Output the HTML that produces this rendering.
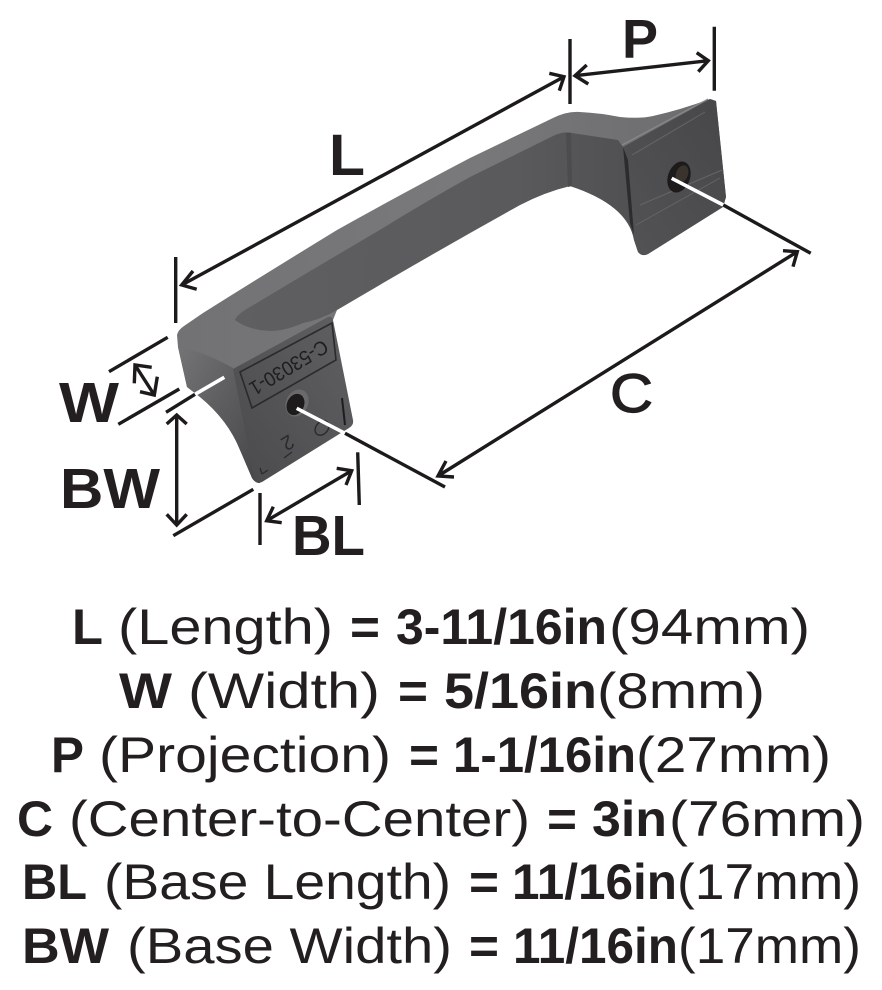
<!DOCTYPE html>
<html><head><meta charset="utf-8"><style>
html,body{margin:0;padding:0;background:#fff}
svg{display:block}
text{font-family:"Liberation Sans",sans-serif;fill:#231f20}
.b{font-weight:bold}
.t text{font-size:50px}
.l text{font-weight:bold}
.ln line,.ln polyline{stroke:#1d1a1b;stroke-width:3.4;fill:none}
</style></head><body>
<svg width="882" height="990" viewBox="0 0 882 990" xmlns="http://www.w3.org/2000/svg">
<defs>
<linearGradient id="top" x1="0" y1="0" x2="1" y2="0"><stop offset="0" stop-color="#727274"/><stop offset=".5" stop-color="#79797b"/><stop offset="1" stop-color="#6c6c6e"/></linearGradient>
<linearGradient id="inner" x1="0" y1="0" x2="1" y2="0"><stop offset="0" stop-color="#5f5f61"/><stop offset=".7" stop-color="#5a5a5c"/><stop offset="1" stop-color="#505052"/></linearGradient>
<linearGradient id="side" x1="0" y1="0" x2="1" y2="1"><stop offset="0" stop-color="#747476"/><stop offset=".5" stop-color="#5c5c5e"/><stop offset="1" stop-color="#464648"/></linearGradient>
<linearGradient id="face1" x1="0" y1="1" x2="1" y2="0"><stop offset="0" stop-color="#4a4a4c"/><stop offset="1" stop-color="#606062"/></linearGradient>
<linearGradient id="face2" x1="0" y1="1" x2="1" y2="0"><stop offset="0" stop-color="#535355"/><stop offset="1" stop-color="#474749"/></linearGradient>
</defs>

<!-- handle silhouette -->
<path d="M177,335 Q178,330 184,326 L203,313 Q270,271 337,230 Q405,192 470,158 L553,118 Q567,111 580,112 Q600,113 620,117 Q640,119 653,116 Q680,110 710,99 L716,101 L726,197 L723,207 L648,254 Q642,257 638,252 L634,240 Q628,205 570,186 Q545,192 520,205 Q430,255 337,310 L333,320 L260,483 Q255,483 252,478 L240,450 Q228,420 200,397 L187,387 L178,347 Z" fill="url(#top)"/>
<!-- inner under face -->
<path d="M235,320 Q236,316 245,310 Q315,268 383,228 Q425,202 470,177 L555,135 Q565,131 572,133 L618,140 L623,147 L634,240 Q628,205 570,186 Q545,192 520,205 Q430,255 337,310 Q320,320 303,323 Q285,331 270,331 Q248,330 235,320 Z" fill="url(#inner)"/>
<path d="M566,133 L571,133 L572,186 L568,187 Z" fill="#4c4c4e"/>
<!-- left side of base -->
<path d="M178,347 Q205,352 233,368 L260,483 Q255,483 252,478 L240,450 Q228,420 200,397 L187,387 Z" fill="url(#side)"/>
<!-- left base face -->
<path d="M233,369 L328,317 Q332,316 333,320 L353,420 Q354,425 349,428 L262,482 Q257,484 255,480 Z" fill="url(#face1)"/>
<path d="M240,372 L332,323 L336,360 L252,408 Z" fill="none" stroke="#2a2a2c" stroke-width="1.6"/>
<text transform="translate(323,339) rotate(149)" style="font-size:20px;fill:#1e1e20" textLength="88" lengthAdjust="spacingAndGlyphs">C-53030-1</text>
<text transform="translate(289,434) rotate(149)" style="font-size:20px;fill:#2a2a2c">2</text>
<ellipse cx="322" cy="428" rx="8" ry="6" fill="none" stroke="#2a2a2c" stroke-width="1.4" transform="rotate(-50 322 428)"/>
<path d="M342,398 L345,425" stroke="#1d1d1f" stroke-width="2"/>
<path d="M262,474 L268,470 M284,458 L292,452 M262,474 L260,468" stroke="#2a2a2c" stroke-width="1.3"/>
<ellipse cx="297" cy="403" rx="11" ry="14" fill="#6a6a6c" transform="rotate(25 297 403)"/>
<ellipse cx="295.5" cy="404.5" rx="8.5" ry="11" fill="#1d1b1b" transform="rotate(25 295.5 404.5)"/>
<!-- right base face -->
<path d="M623,147 L710,99 L716,101 L726,197 L723,207 L648,254 Q642,257 638,252 L634,240 Z" fill="url(#face2)"/>
<path d="M640,205 L722,170 M632,155 L705,112 M636,225 L720,178" stroke="#656567" stroke-width="1" fill="none"/>
<path d="M623,147 L628,160 L634,235 L630,223 Z" fill="#2c2c2e"/>
<path d="M622,145 L708,99" stroke="#8a8a8c" stroke-width="1.2" fill="none"/>
<ellipse cx="679" cy="177" rx="11" ry="16" fill="#1c1a1a" transform="rotate(20 679 177)"/>
<ellipse cx="682" cy="174" rx="6" ry="9" fill="#3a322c" transform="rotate(20 682 174)"/>

<!-- white extension lines over handle -->
<line x1="195" y1="394.3" x2="224.3" y2="377.3" stroke="#fff" stroke-width="3.6"/>
<line x1="296.7" y1="408.3" x2="345" y2="433.3" stroke="#fff" stroke-width="3.6"/>
<line x1="671.7" y1="178.3" x2="723.3" y2="205" stroke="#fff" stroke-width="3.6"/>

<g class="ln">
<!-- L -->
<line x1="175.7" y1="257" x2="175.7" y2="323"/>
<line x1="181.7" y1="285" x2="564" y2="76.7"/>
<polyline points="193,271 181.7,285 196.7,289.3"/>
<polyline points="549.3,73.3 564,76.7 559.3,90.7"/>
<!-- P -->
<line x1="570" y1="39" x2="570" y2="104"/>
<line x1="714.3" y1="26.7" x2="714.3" y2="90.7"/>
<line x1="575" y1="75.7" x2="708.3" y2="60.7"/>
<polyline points="586.7,65 575,75.7 588.3,84"/>
<polyline points="696.7,52.7 708.3,60.7 698.3,71.7"/>
<!-- C -->
<line x1="345" y1="433.3" x2="445" y2="487"/>
<line x1="723.3" y1="205" x2="810.7" y2="253.3"/>
<line x1="438" y1="476" x2="797.3" y2="251.7"/>
<polyline points="454,477 438,476 446,461"/>
<polyline points="783,250.7 797.3,251.7 793,266.7"/>
<!-- W -->
<line x1="167.7" y1="337.3" x2="109" y2="371.7"/>
<line x1="179.3" y1="389" x2="118.3" y2="424.3"/>
<line x1="135" y1="365" x2="154.3" y2="395"/>
<polyline points="151.7,367.3 135,365 134.3,383.3"/>
<polyline points="140,391.7 154.3,395 157.3,376.7"/>
<!-- BW -->
<line x1="166" y1="412.3" x2="195" y2="394.3"/>
<line x1="176.7" y1="415" x2="176.7" y2="525"/>
<polyline points="166.7,424 176.7,415 186.7,424"/>
<polyline points="166.7,514.3 176.7,525 186.7,514.3"/>
<line x1="173.3" y1="535.7" x2="253.3" y2="489.3"/>
<!-- BL -->
<line x1="260" y1="493" x2="260" y2="545"/>
<line x1="357.7" y1="452.3" x2="359.3" y2="505"/>
<line x1="266.7" y1="520.7" x2="351.7" y2="470.7"/>
<polyline points="281.7,522.7 266.7,520.7 273.3,506.7"/>
<polyline points="336.7,468.3 351.7,470.7 346,485"/>
</g>

<!-- diagram labels -->
<g class="l">
<text x="329" y="175" style="font-size:58px" textLength="36" lengthAdjust="spacingAndGlyphs">L</text>
<text x="622" y="58" style="font-size:55px" textLength="36" lengthAdjust="spacingAndGlyphs">P</text>
<text x="610" y="412" style="font-size:55px;font-weight:normal;stroke:#231f20;stroke-width:1.2" textLength="43" lengthAdjust="spacingAndGlyphs">C</text>
<text x="59" y="422" style="font-size:57px" textLength="60" lengthAdjust="spacingAndGlyphs">W</text>
<text x="60" y="508" style="font-size:57px" textLength="100" lengthAdjust="spacingAndGlyphs">BW</text>
<text x="292" y="555" style="font-size:57px" textLength="73" lengthAdjust="spacingAndGlyphs">BL</text>
</g>

<!-- spec table -->
<g class="t">
<text class="b" x="72" y="644" textLength="31" lengthAdjust="spacingAndGlyphs">L</text>
<text x="118" y="644" textLength="215" lengthAdjust="spacingAndGlyphs">(Length)</text>
<text class="b" x="350" y="644" textLength="30" lengthAdjust="spacingAndGlyphs">=</text>
<text class="b" x="396" y="644" textLength="211" lengthAdjust="spacingAndGlyphs">3-11/16in</text>
<text x="609" y="644" textLength="201" lengthAdjust="spacingAndGlyphs">(94mm)</text>

<text class="b" x="119" y="708" textLength="53" lengthAdjust="spacingAndGlyphs">W</text>
<text x="188" y="708" textLength="192" lengthAdjust="spacingAndGlyphs">(Width)</text>
<text class="b" x="398" y="708" textLength="30" lengthAdjust="spacingAndGlyphs">=</text>
<text class="b" x="444" y="708" textLength="153" lengthAdjust="spacingAndGlyphs">5/16in</text>
<text x="597" y="708" textLength="168" lengthAdjust="spacingAndGlyphs">(8mm)</text>

<text class="b" x="51" y="772" textLength="33" lengthAdjust="spacingAndGlyphs">P</text>
<text x="99" y="772" textLength="292" lengthAdjust="spacingAndGlyphs">(Projection)</text>
<text class="b" x="409" y="772" textLength="30" lengthAdjust="spacingAndGlyphs">=</text>
<text class="b" x="453" y="772" textLength="183" lengthAdjust="spacingAndGlyphs">1-1/16in</text>
<text x="636" y="772" textLength="195" lengthAdjust="spacingAndGlyphs">(27mm)</text>

<text class="b" x="17" y="836" textLength="36" lengthAdjust="spacingAndGlyphs">C</text>
<text x="69" y="836" textLength="461" lengthAdjust="spacingAndGlyphs">(Center-to-Center)</text>
<text class="b" x="547" y="836" textLength="30" lengthAdjust="spacingAndGlyphs">=</text>
<text class="b" x="592" y="836" textLength="75" lengthAdjust="spacingAndGlyphs">3in</text>
<text x="669" y="836" textLength="196" lengthAdjust="spacingAndGlyphs">(76mm)</text>

<text class="b" x="22" y="899" textLength="65" lengthAdjust="spacingAndGlyphs">BL</text>
<text x="104" y="899" textLength="347" lengthAdjust="spacingAndGlyphs">(Base Length)</text>
<text class="b" x="469" y="899" textLength="30" lengthAdjust="spacingAndGlyphs">=</text>
<text class="b" x="512" y="899" textLength="165" lengthAdjust="spacingAndGlyphs">11/16in</text>
<text x="677" y="899" textLength="184" lengthAdjust="spacingAndGlyphs">(17mm)</text>

<text class="b" x="22" y="963" textLength="87" lengthAdjust="spacingAndGlyphs">BW</text>
<text x="127" y="963" textLength="325" lengthAdjust="spacingAndGlyphs">(Base Width)</text>
<text class="b" x="469" y="963" textLength="30" lengthAdjust="spacingAndGlyphs">=</text>
<text class="b" x="513" y="963" textLength="165" lengthAdjust="spacingAndGlyphs">11/16in</text>
<text x="678" y="963" textLength="183" lengthAdjust="spacingAndGlyphs">(17mm)</text>
</g>
</svg>
</body></html>
